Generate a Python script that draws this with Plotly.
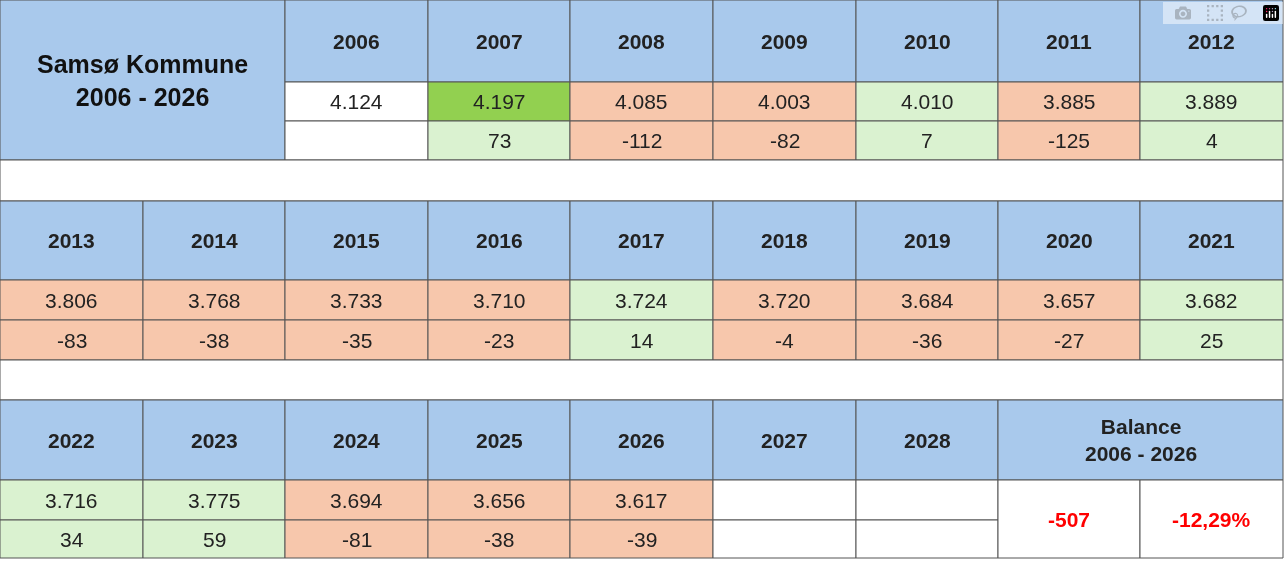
import plotly.graph_objects as go

TITLE = "Samsø Kommune<br>2006 - 2026"
YEARS_1 = [2006, 2007, 2008, 2009, 2010, 2011, 2012]
POP_1 = [4124, 4197, 4085, 4003, 4010, 3885, 3889]
DIFF_1 = [None, 73, -112, -82, 7, -125, 4]
YEARS_2 = [2013, 2014, 2015, 2016, 2017, 2018, 2019, 2020, 2021]
POP_2 = [3806, 3768, 3733, 3710, 3724, 3720, 3684, 3657, 3682]
DIFF_2 = [-83, -38, -35, -23, 14, -4, -36, -27, 25]
YEARS_3 = [2022, 2023, 2024, 2025, 2026, 2027, 2028]
POP_3 = [3716, 3775, 3694, 3656, 3617, None, None]
DIFF_3 = [34, 59, -81, -38, -39, None, None]
PEAK_YEAR = 2007
BALANCE_LABEL = "Balance<br>2006 - 2026"
BALANCE_ABS = -507
BALANCE_PCT = "-12,29%"

BLUE = "#A9C9EC"
SALMON = "#F7C7AC"
LGREEN = "#DAF2D0"
BGREEN = "#92D050"
WHITE = "#FFFFFF"
LINE = "#555555"

COL_X = [0, 143, 285, 428, 570, 713, 856, 998, 1140, 1283]
ROW_Y = [0, 82, 121, 160, 201, 280, 320, 360, 400, 480, 520, 558]

BOLD = dict(family="Liberation Sans", size=21, color="#222222")
REG = dict(family="Liberation Sans", size=21, color="#222222")
RED = dict(family="Liberation Sans", size=21, color="#FF0000")


def fmt(n):
    return f"{n:,}".replace(",", ".")


shapes, annots = [], []


def cell(c0, c1, r0, r1, fill, text="", font=REG):
    x0, x1, y0, y1 = COL_X[c0], COL_X[c1], ROW_Y[r0], ROW_Y[r1]
    shapes.append(dict(type="rect", xref="x", yref="y", x0=x0, x1=x1, y0=y0, y1=y1,
                       fillcolor=fill, line=dict(color=LINE, width=1), layer="below"))
    if text:
        annots.append(dict(x=(x0 + x1) / 2, y=(y0 + y1) / 2, xref="x", yref="y", text=text,
                           showarrow=False, font=font))


def color_for(d, year):
    if year == PEAK_YEAR:
        return BGREEN
    if d is None:
        return WHITE
    return LGREEN if d >= 0 else SALMON


def block(years, pops, diffs, start_col, r):
    for i, (y, p, d) in enumerate(zip(years, pops, diffs)):
        c = start_col + i
        cell(c, c + 1, r, r + 1, BLUE, f"<b>{y}</b>", BOLD)
        if p is None:
            cell(c, c + 1, r + 1, r + 2, WHITE)
            cell(c, c + 1, r + 2, r + 3, WHITE)
            continue
        cell(c, c + 1, r + 1, r + 2, color_for(d, y), fmt(p))
        cell(c, c + 1, r + 2, r + 3, WHITE if d is None else (LGREEN if d >= 0 else SALMON),
             "" if d is None else str(d))


# blok 1
cell(0, 2, 0, 3, BLUE, "<b>" + TITLE.replace("<br>", "</b><br><b>") + "</b>",
     dict(family="Liberation Sans", size=25, color="#111111"))
block(YEARS_1, POP_1, DIFF_1, 2, 0)
cell(0, 9, 3, 4, WHITE)
block(YEARS_2, POP_2, DIFF_2, 0, 4)
cell(0, 9, 7, 8, WHITE)
block(YEARS_3, POP_3, DIFF_3, 0, 8)
cell(7, 9, 8, 9, BLUE, "<b>" + BALANCE_LABEL.replace("<br>", "</b><br><b>") + "</b>", BOLD)
cell(7, 8, 9, 11, WHITE, f"<b>{BALANCE_ABS}</b>", RED)
cell(8, 9, 9, 11, WHITE, f"<b>{BALANCE_PCT}</b>", RED)

fig = go.Figure(go.Scatter(x=[0, 1285], y=[0, 561], mode="markers", opacity=0, hoverinfo="skip"))
fig.update_layout(
    width=1285, height=561, margin=dict(l=0, r=0, t=0, b=0),
    plot_bgcolor=WHITE, paper_bgcolor=WHITE, showlegend=False,
    shapes=shapes, annotations=annots,
    xaxis=dict(range=[0, 1285], visible=False, fixedrange=True),
    yaxis=dict(range=[561, 0], visible=False, fixedrange=True),
)
fig.write_html("out.html", post_script="document.body.style.margin='0';")
